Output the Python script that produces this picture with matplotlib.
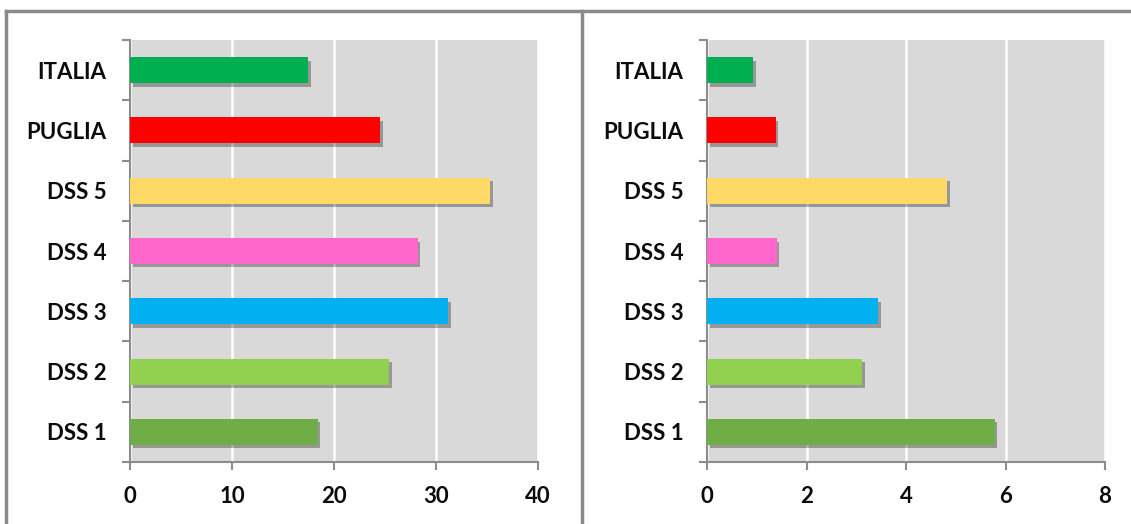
import matplotlib

matplotlib.use("Agg")

import matplotlib.pyplot as plt  # noqa: E402
import matplotlib.patheffects as pe  # noqa: E402
from matplotlib.lines import Line2D  # noqa: E402

# categories listed bottom to top
CATEGORIES = ["DSS 1", "DSS 2", "DSS 3", "DSS 4", "DSS 5", "PUGLIA", "ITALIA"]
LEFT_VALUES = [18.4, 25.4, 31.2, 28.2, 35.3, 24.5, 17.5]
RIGHT_VALUES = [5.78, 3.12, 3.44, 1.40, 4.83, 1.38, 0.92]
LEFT_TICKS = [0, 10, 20, 30, 40]
RIGHT_TICKS = [0, 2, 4, 6, 8]
COLORS = ["#70ad47", "#92d050", "#00b0f0", "#ff66cc", "#ffd966", "#ff0000", "#00b050"]

W, H = 1131, 524
PLOT_BG = "#d9d9d9"
AXIS_GREY = "#8c8c8c"
FRAME_GREY = "#8a8a8a"
INK = "#0b0b0b"

plt.rcParams["font.family"] = ["Lato", "DejaVu Sans"]

fig = plt.figure(figsize=(W / 100, H / 100), dpi=100)
fig.patch.set_facecolor("white")


def px_axes(x0, x1, y0, y1):
    return fig.add_axes([x0 / W, 1 - y1 / H, (x1 - x0) / W, (y1 - y0) / H])


def draw_panel(ax, values, ticks):
    ax.set_facecolor(PLOT_BG)
    y = range(len(CATEGORIES))
    bars = ax.barh(y, values, height=0.43, color=COLORS, zorder=3)
    for b in bars:
        b.set_path_effects([
            pe.SimplePatchShadow(offset=(2, -2.5), shadow_rgbFace="black", alpha=0.3),
            pe.Normal(),
        ])
    ax.set_xlim(ticks[0], ticks[-1])
    ax.set_ylim(-0.5, len(CATEGORIES) - 0.5)
    ax.set_xticks(ticks)
    ax.set_yticks(list(y))
    ax.set_yticklabels(CATEGORIES)
    # category boundary ticks on y axis
    ax.set_yticks([i - 0.5 for i in range(len(CATEGORIES) + 1)], minor=True)
    ax.tick_params(axis="y", which="major", length=0, pad=17)
    ax.tick_params(axis="y", which="minor", length=6, width=1.5, color=AXIS_GREY)
    ax.tick_params(axis="x", length=6, width=1.5, color=AXIS_GREY, pad=11)
    for lab in ax.get_xticklabels() + ax.get_yticklabels():
        lab.set_fontsize(16)
        lab.set_fontweight("bold")
        lab.set_color(INK)
    ax.grid(axis="x", color="white", linewidth=1.8, zorder=1)
    ax.set_axisbelow(True)
    for side in ["top", "right"]:
        ax.spines[side].set_visible(False)
    for side in ["left", "bottom"]:
        ax.spines[side].set_color(AXIS_GREY)
        ax.spines[side].set_linewidth(1.5)


ax_left = px_axes(130, 538, 40, 462)
draw_panel(ax_left, LEFT_VALUES, LEFT_TICKS)

ax_right = px_axes(707, 1105, 40, 462)
draw_panel(ax_right, RIGHT_VALUES, RIGHT_TICKS)

# outer chart frames (cut off at the bottom/right edge of the image)
frame_lines = [
    ((6, 6), (11, H + 5)),
    ((6, W + 5), (11, 11)),
    ((582, 582), (11, H + 5)),
]
for xs, ys in frame_lines:
    fig.add_artist(Line2D([x / W for x in xs], [1 - v / H for v in ys],
                          color=FRAME_GREY, linewidth=2.5))

fig.savefig("out.png", dpi=100, facecolor=fig.get_facecolor())
